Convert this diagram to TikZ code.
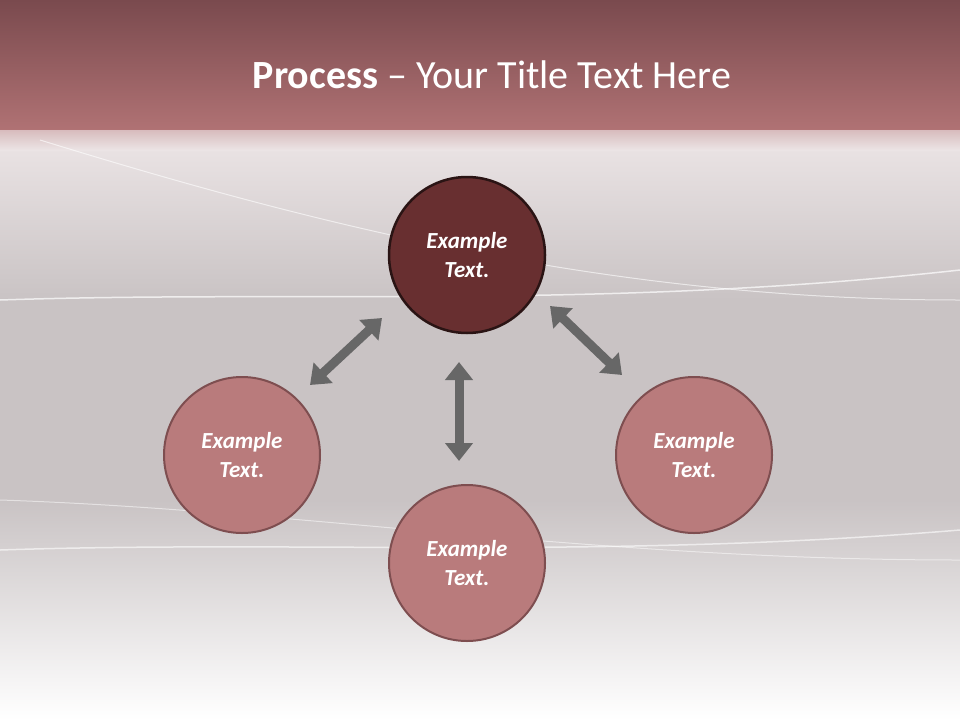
\documentclass[tikz,border=0pt]{standalone}
\usepackage{fontspec}
\setmainfont{Carlito}
\usetikzlibrary{arrows.meta}
\definecolor{topA}{HTML}{7A4A4E}
\definecolor{topB}{HTML}{B07274}
\definecolor{bgA}{HTML}{EDE6E7}
\definecolor{bgB}{HTML}{C9C3C4}
\definecolor{dark}{HTML}{682F30}
\definecolor{darkb}{HTML}{2A1414}
\definecolor{rose}{HTML}{B97B7C}
\definecolor{roseb}{HTML}{7E4E50}
\definecolor{arr}{HTML}{676767}
\tikzset{
 circ/.style={circle,minimum size=156pt,inner sep=0pt,fill=rose,draw=roseb,line width=2pt,text=white,font=\fontsize{23}{29}\selectfont\bfseries\itshape,align=center},
 dcirc/.style={circ,fill=dark,draw=darkb,line width=2.5pt},
 dbl/.style={arr,line width=9pt,{Triangle[width=27pt,length=18pt]}-{Triangle[width=27pt,length=18pt]}}
}
\begin{document}
\begin{tikzpicture}[x=1pt,y=-1pt]
\useasboundingbox (0,0) rectangle (960,720);
\shade[top color=topA,bottom color=topB] (0,0) rectangle (960,130);
\shade[top color=bgA,bottom color=bgB] (0,130) rectangle (960,300);
\fill[bgB] (0,300) rectangle (960,500);
\shade[top color=bgB,bottom color=white] (0,500) rectangle (960,720);
\shade[top color=topB!60!white,bottom color=bgA,opacity=0.7] (0,130) rectangle (960,150);
\draw[white,opacity=0.7,line width=1.5pt] (0,300) .. controls (300,290) and (600,310) .. (960,270);
\draw[white,opacity=0.6,line width=1pt] (40,140) .. controls (300,220) and (600,300) .. (960,300);
\draw[white,opacity=0.6,line width=1.5pt] (0,550) .. controls (300,540) and (600,560) .. (960,530);
\draw[white,opacity=0.5,line width=1pt] (0,500) .. controls (300,510) and (600,560) .. (960,560);
\node[font=\fontsize{40}{46}\selectfont,text=white] (title) at (492,75) {\textbf{Process} – Your Title Text Here};
\node[dcirc] (top) at (467,255) {Example\\Text.};
\node[circ] (left) at (242,455) {Example\\Text.};
\node[circ] (right) at (694,455) {Example\\Text.};
\node[circ] (bot) at (467,563) {Example\\Text.};
\coordinate (a1) at (382,318); \coordinate (a2) at (310,385);
\coordinate (b1) at (550,306); \coordinate (b2) at (622,375);
\coordinate (c1) at (459,362); \coordinate (c2) at (459,461);
\draw[dbl] (a1) -- (a2);
\draw[dbl] (b1) -- (b2);
\draw[dbl] (c1) -- (c2);
\end{tikzpicture}
\end{document}
